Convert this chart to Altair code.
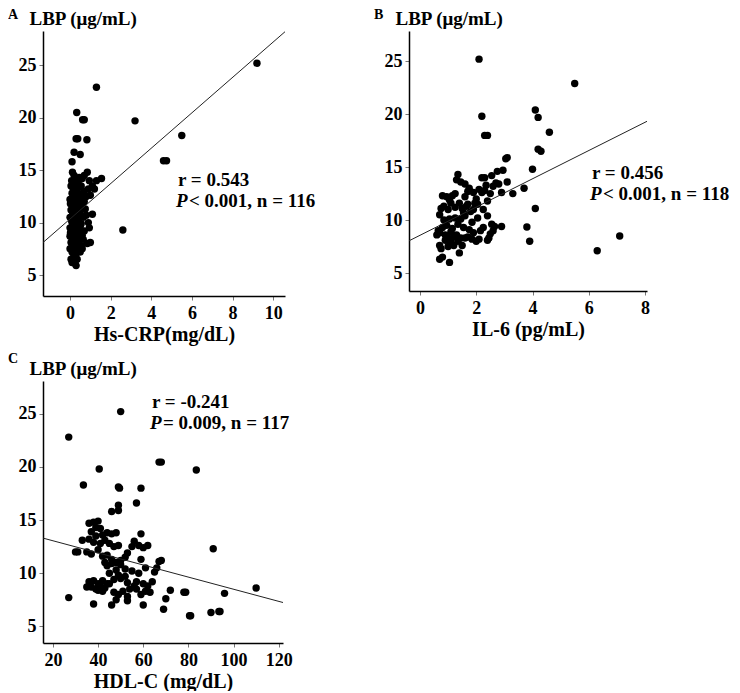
import altair as alt
import pandas as pd

FONT = "Liberation Serif"

# ---------------- Panel A: Hs-CRP vs LBP ----------------
crp_x = [9.2, 1.3, 3.2, 5.5, 4.6, 4.75, 2.6,
         0.33, 0.62, 0.7, 0.3, 0.38, 0.83, 0.2, 0.5, 0.1, 0.85, 0.12, 0.2, 0.45, 0.6, 1.55, 1.3, 1.1, 0.9,
         0.4, 0.05, 0.15, 0.3, 0.7, 0.5, 1.0, 0.8, 0.1, 0.25, 0.0, 0.45, 0.6, 0.15, 0.35, 0.05, 0.5, 0.25,
         1.1, 0.8, 0.65, 0.0, 0.2, 0.4, 0.1, 0.55, 0.3, 0.0, 0.2, 0.45, 0.7, 0.1, 0.35, 0.6, 0.0, 0.25,
         0.15, 0.45, 1.0, 0.85, 0.05, 0.3, 0.55, 0.2, 0.0, 0.4, 0.6, 0.1, 0.3, 0.2, 0.05, 0.35, 0.1, 0.3,
         0.25, 0.08, 0.28, 0.18, 0.38, 0.02, 0.3, 0.12, 0.42, 0.22, 0.06, 0.32, 0.14, 0.4, 0.26, 0.12,
         0.48, 0.55, 0.7, 0.75, 0.9, 0.95, 0.5, 0.65, 0.18, 0.08, 0.36, 0.02, 0.22, 0.4, 0.55, 0.2, 0.7,
         1.2, 0.95, 0.35, 0.5, 0.15]
crp_y = [25.2, 22.9, 19.7, 18.3, 15.9, 15.9, 9.3,
         20.5, 19.8, 19.8, 18.0, 18.0, 17.9, 16.7, 16.5, 15.8, 14.8, 14.8, 14.5, 14.3, 14.2, 14.2, 14.0, 13.5, 13.2,
         13.8, 13.5, 13.3, 13.0, 13.0, 12.7, 12.6, 12.5, 12.8, 12.4, 12.2, 12.0, 11.8, 11.6, 11.5, 11.2, 11.0, 10.9,
         10.8, 10.7, 10.5, 10.5, 10.3, 10.2, 10.0, 9.9, 9.7, 9.5, 9.4, 9.3, 9.2, 9.0, 8.9, 8.8, 8.7, 8.6,
         8.4, 8.3, 8.1, 8.0, 8.1, 8.0, 7.8, 7.7, 7.5, 7.4, 7.5, 7.2, 7.0, 6.8, 6.5, 6.5, 6.2, 5.9,
         6.1, 14.0, 13.6, 12.0, 12.6, 11.8, 11.2, 10.7, 10.6, 9.9, 9.2, 9.1, 8.9, 8.0, 7.4, 7.8,
         11.4, 12.3, 12.0, 11.3, 10.0, 9.5, 9.6, 8.4, 11.0, 10.2, 10.0, 9.0, 12.8, 13.3, 13.5, 14.0, 14.5,
         13.2, 14.0, 7.8, 7.2, 6.6]

# ---------------- Panel B: IL-6 vs LBP ----------------
il6_x = [2.1, 5.5, 4.1, 4.2, 4.6, 4.2, 4.3, 2.2, 2.3, 2.4, 4.0, 3.7, 4.1, 3.8, 3.9, 6.3, 7.1,
         3.05, 3.1, 3.3, 2.95, 3.1, 2.9, 2.9,
         0.7, 0.8, 1.05, 1.4, 0.75, 1.0, 1.2, 1.5, 0.6, 0.7, 0.9, 1.0, 1.1, 1.2, 1.3, 1.45, 1.6, 1.7,
         1.85, 2.0, 2.1, 1.9, 2.4, 2.45, 2.5, 2.6, 2.55, 2.4, 2.25, 2.05, 1.75, 1.55, 1.35, 1.15, 0.95,
         0.8, 0.65, 0.85, 1.05, 0.7, 1.25, 1.45, 1.6, 1.8, 1.9, 1.65, 1.5, 1.0, 0.85, 1.1, 0.75, 1.25,
         1.7, 1.95, 2.05, 2.25, 2.4, 2.5, 2.6, 2.7, 2.55, 2.75, 2.3, 2.2, 2.2, 2.3, 2.1, 1.9, 1.75, 1.6,
         1.45, 1.35, 1.25, 1.15, 0.95, 0.8, 1.05, 1.3, 1.7, 2.0, 2.65, 2.35, 2.8, 1.55, 0.9, 1.1, 1.35,
         0.7, 1.85, 2.15, 1.6, 1.4]
il6_y = [25.2, 22.9, 20.4, 19.7, 18.3, 16.7, 16.5, 19.8, 18.0, 18.0, 14.8, 13.0, 11.1, 9.35, 8.0, 7.1, 8.5,
         15.8, 15.9, 12.5, 14.7, 13.6, 12.6, 9.4,
         6.3, 6.5, 6.0, 6.9, 7.3, 7.5, 7.6, 7.6, 8.6, 8.8, 8.1, 8.3, 8.0, 8.4, 8.6, 8.3, 8.3, 8.4,
         8.2, 8.0, 8.2, 8.8, 8.1, 8.3, 8.7, 9.0, 9.6, 10.4, 9.3, 10.2, 9.1, 9.3, 9.6, 9.2, 9.5,
         9.3, 9.0, 10.0, 10.1, 10.5, 10.2, 10.1, 10.4, 10.8, 11.0, 11.3, 11.1, 11.0, 11.3, 11.6, 11.1, 11.2,
         11.5, 11.6, 11.5, 11.0, 11.8, 12.5, 13.2, 13.5, 14.2, 14.6, 14.0, 14.0, 12.6, 12.8, 12.9, 12.6, 13.0, 13.4,
         13.6, 14.3, 12.5, 12.3, 12.2, 12.3, 11.9, 13.8, 12.7, 12.0, 9.4, 13.3, 13.4, 10.7, 8.6, 8.9, 8.0,
         7.6, 9.8, 9.0, 12.2, 11.6]

# ---------------- Panel C: HDL-C vs LBP ----------------
hdl_x = [50, 27, 40.5, 33.5, 67, 68, 83.5, 49, 49.5, 59, 57, 49, 46, 49, 91, 110, 96, 94, 93.5, 90,
         80.5, 81, 78, 78.8, 72, 70, 69, 60, 27, 38, 30, 31, 33, 46, 53, 59, 67, 68, 66, 65,
         36, 38, 40, 39, 41, 37, 39, 42, 44, 46, 48, 36, 38, 41, 43, 45, 47, 49, 35, 37, 40, 42, 44,
         46, 48, 50, 52, 53, 55, 56, 58, 60, 62, 59, 58, 61, 57, 60, 62, 64, 63, 61, 59, 57, 56, 53,
         52, 50, 49, 47, 45, 43, 41, 39, 37, 35, 36, 38, 40, 42, 44, 42, 40, 44, 46, 48, 50, 52, 47,
         49, 51, 53, 48, 45, 43, 55, 54]
hdl_y = [25.2, 22.8, 19.8, 18.3, 20.45, 20.45, 19.7, 18.1, 18.0, 18.0, 16.6, 16.4, 15.8, 15.9, 12.3, 8.6,
         8.1, 6.4, 6.4, 6.3, 6.0, 6.0, 8.2, 8.2, 8.4, 7.6, 6.6, 7.0, 7.7, 7.1, 12.0, 12.0, 13.1, 7.0,
         7.4, 13.7, 11.1, 11.2, 10.5, 10.1,
         14.7, 14.8, 14.9, 14.3, 14.2, 13.9, 13.5, 13.6, 13.8, 13.7, 13.8, 13.2, 12.9, 12.8, 13.1, 12.8,
         12.5, 12.6, 12.0, 11.8, 12.2, 11.6, 11.7, 11.3, 11.0, 11.2, 11.5, 11.9, 12.5, 13.0, 12.6, 12.4,
         12.6, 11.3, 10.0, 10.5, 9.2, 9.0, 8.8, 9.2, 8.2, 8.3, 8.0, 8.5, 8.8, 9.1, 9.7, 9.5, 9.8, 9.4,
         9.0, 8.6, 8.8, 8.5, 8.7, 8.7, 9.2, 9.3, 9.0, 9.3, 9.0, 8.3, 8.4, 10.7, 10.9, 10.3, 10.8, 10.4,
         8.2, 8.0, 8.3, 7.8, 7.5, 10.0, 11.0, 10.2, 8.5]

# regression line end points
line_a_x = [-1.33, 10.58]
line_a_y = [8.1, 28.2]
line_b_x = [-0.39, 8.07]
line_b_y = [8.04, 19.33]
line_c_x = [15.6, 121.9]
line_c_y = [13.3, 7.24]

y_ticks = [5, 10, 15, 20, 25]


def panel(xs, ys, lx, ly, xdom, ydom, xticks, w, h, xtitle, letter, letter_pos,
          r_text, p_sym, p_rest, ann_x, ann_y):
    df = pd.DataFrame({"x": xs, "y": ys})
    ldf = pd.DataFrame({"x": lx, "y": ly})
    xenc = alt.X("x:Q", scale=alt.Scale(domain=xdom, nice=False, zero=False),
                 axis=alt.Axis(values=xticks, title=xtitle, format="d"))
    yenc = alt.Y("y:Q", scale=alt.Scale(domain=ydom, nice=False, zero=False),
                 axis=alt.Axis(values=y_ticks, title="LBP (μg/mL)", titleAngle=0,
                               titleX=-14, titleY=-7, titleAlign="left",
                               titleBaseline="alphabetic", titleFontSize=19))
    pts = alt.Chart(df).mark_circle(size=55, color="black", opacity=1).encode(x=xenc, y=yenc)
    line = alt.Chart(ldf).mark_line(color="#222222", strokeWidth=1, clip=True).encode(
        x="x:Q", y="y:Q")
    tdf = pd.DataFrame({"t": [r_text]})
    r_lbl = alt.Chart(tdf).mark_text(font=FONT, fontWeight="bold", fontSize=19, align="left",
                                     baseline="alphabetic", color="black").encode(
        x=alt.value(ann_x), y=alt.value(ann_y), text="t:N")
    pdf = pd.DataFrame({"t": [p_sym]})
    p_lbl = alt.Chart(pdf).mark_text(font=FONT, fontWeight="bold", fontStyle="italic", fontSize=19,
                                     align="left", baseline="alphabetic", color="black").encode(
        x=alt.value(ann_x - 2), y=alt.value(ann_y + 21), text="t:N")
    qdf = pd.DataFrame({"t": [p_rest]})
    q_lbl = alt.Chart(qdf).mark_text(font=FONT, fontWeight="bold", fontSize=19, align="left",
                                     baseline="alphabetic", color="black").encode(
        x=alt.value(ann_x + 11), y=alt.value(ann_y + 21), text="t:N")
    ldf2 = pd.DataFrame({"t": [letter]})
    let = alt.Chart(ldf2).mark_text(font=FONT, fontWeight="bold", fontSize=14, align="left",
                                    baseline="alphabetic", color="black").encode(
        x=alt.value(letter_pos[0]), y=alt.value(letter_pos[1]), text="t:N")
    return alt.layer(pts, line, r_lbl, p_lbl, q_lbl, let).properties(width=w, height=h)


pa = panel(crp_x, crp_y, line_a_x, line_a_y, [-1.33, 10.58], [3.0, 28.27], [0, 2, 4, 6, 8, 10],
           242, 265, "Hs-CRP(mg/dL)", "A", (-35, -12),
           "r = 0.543", "P", "< 0.001, n = 116", 135, 155)
pb = panel(il6_x, il6_y, line_b_x, line_b_y, [-0.39, 8.07], [3.3, 27.86], list(range(0, 9)),
           238, 260, "IL-6 (pg/mL)", "B", (-35, -12),
           "r = 0.456", "P", "< 0.001, n = 118", 183, 148)
pc = panel(hdl_x, hdl_y, line_c_x, line_c_y, [15.6, 121.9], [3.43, 28.08], [20, 40, 60, 80, 100, 120],
           240, 262, "HDL-C (mg/dL)", "C", (-35, -18),
           "r = -0.241", "P", "= 0.009, n = 117", 109, 27)

chart = alt.concat(pa, pb, pc, columns=2, spacing={"row": 85, "column": 124}, bounds="flush").properties(
    padding={"left": 0, "top": 0, "right": 0, "bottom": 0}
).configure_view(stroke=None).configure_axis(
    grid=False,
    domainColor="black",
    domainWidth=1.5,
    tickColor="#777777",
    tickSize=4,
    labelFont=FONT,
    labelFontWeight="bold",
    labelFontSize=18,
    labelColor="black",
    labelPadding=3,
    titleFont=FONT,
    titleFontWeight="bold",
    titleFontSize=20,
    titleColor="black",
).configure_axisX(labelPadding=4, titlePadding=2)

chart.save("out.html", embed_options={"renderer": "svg", "actions": False})
